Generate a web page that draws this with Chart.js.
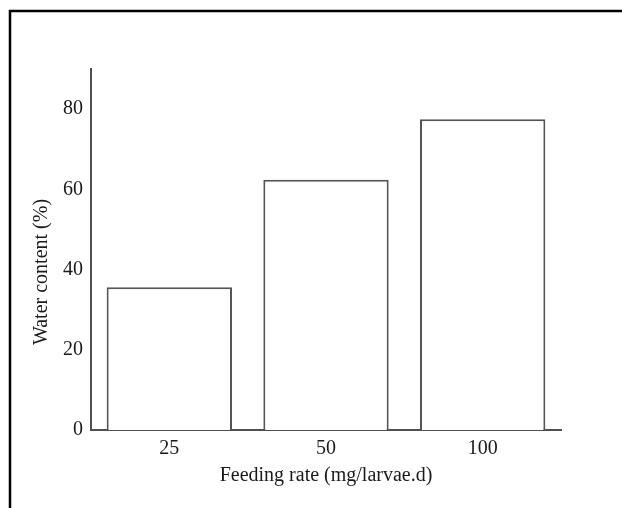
<!DOCTYPE html>
<html>
<head>
<meta charset="utf-8">
<script src="https://cdn.jsdelivr.net/npm/chart.js@4.4.0/dist/chart.umd.min.js"></script>
<style>
  html, body { margin: 0; padding: 0; background: #ffffff; }
  #wrap { position: relative; width: 622px; height: 508px; }
</style>
</head>
<body>
<div id="wrap"><canvas id="c"></canvas></div>
<script>
const categories = ['25', '50', '100'];
const waterContent = [35.6, 62.4, 77.5];
const yTickValues = [0, 20, 40, 60, 80];
const xTitle = 'Feeding rate (mg/larvae.d)';
const yTitle = 'Water content (%)';

const frame = {
  id: 'frame',
  beforeDraw(chart) {
    const ctx = chart.ctx;
    ctx.save();
    ctx.fillStyle = '#ffffff';
    ctx.fillRect(0, 0, chart.width, chart.height);
    ctx.strokeStyle = '#000000';
    ctx.lineWidth = 2.5;
    ctx.beginPath();
    ctx.moveTo(10, chart.height);
    ctx.lineTo(10, 11);
    ctx.lineTo(chart.width, 11);
    ctx.stroke();
    ctx.restore();
  }
};

const fontFamily = "'Liberation Serif', 'Times New Roman', serif";
const textColor = '#1a1a1a';

new Chart(document.getElementById('c'), {
  type: 'bar',
  data: {
    labels: categories,
    datasets: [{
      data: waterContent,
      backgroundColor: '#ffffff',
      borderColor: '#555555',
      borderWidth: 2,
      barPercentage: 0.8,
      categoryPercentage: 1.0
    }]
  },
  plugins: [frame],
  options: {
    responsive: true,
    maintainAspectRatio: false,
    animation: false,
    layout: { padding: { left: 0, right: 61, top: 69, bottom: 0 } },
    plugins: { legend: { display: false }, tooltip: { enabled: false } },
    scales: {
      x: {
        grid: { display: false, drawTicks: false },
        border: { display: true, color: '#505050', width: 2 },
        ticks: { color: textColor, font: { family: fontFamily, size: 20 }, padding: 7 },
        title: { display: true, text: xTitle, color: textColor, font: { family: fontFamily, size: 20 }, padding: { top: 0, bottom: 20 } },
        afterFit(scale) { scale.height = 78; }
      },
      y: {
        min: 0,
        max: 90,
        grid: { display: false, drawTicks: false },
        border: { display: true, color: '#505050', width: 2 },
        afterBuildTicks(scale) { scale.ticks = yTickValues.map(v => ({ value: v })); },
        ticks: { color: textColor, font: { family: fontFamily, size: 20 }, padding: 8 },
        title: { display: true, text: yTitle + '         ', color: textColor, font: { family: fontFamily, size: 20 }, padding: { top: 30, bottom: 0 } },
        afterFit(scale) { scale.width = 91; }
      }
    }
  }
});
</script>
</body>
</html>
